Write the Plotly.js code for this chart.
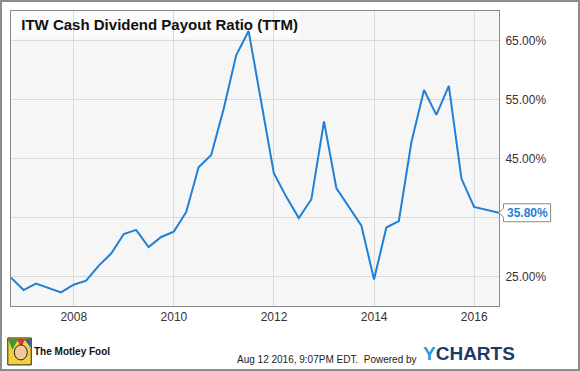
<!DOCTYPE html>
<html>
<head>
<meta charset="utf-8">
<script src="https://cdn.plot.ly/plotly-3.0.1.min.js"></script>
<style>
  html, body { margin: 0; padding: 0; background: #fff; }
  #wrap { position: relative; width: 580px; height: 371px; }
  #chart { width: 580px; height: 371px; }
  #frame { position: absolute; left: 0; top: 0; width: 580px; height: 371px; box-sizing: border-box; border: 2px solid #8c8c8c; pointer-events: none; }
</style>
</head>
<body>
<div id="wrap"><div id="chart"></div><div id="frame"></div></div>
<script>
// Quarter-end dates
const dates = [
  '2006-09-30','2006-12-31','2007-03-31','2007-06-30','2007-09-30','2007-12-31',
  '2008-03-31','2008-06-30','2008-09-30','2008-12-31','2009-03-31','2009-06-30',
  '2009-09-30','2009-12-31','2010-03-31','2010-06-30','2010-09-30','2010-12-31',
  '2011-03-31','2011-06-30','2011-09-30','2011-12-31','2012-03-31','2012-06-30',
  '2012-09-30','2012-12-31','2013-03-31','2013-06-30','2013-09-30','2013-12-31',
  '2014-03-31','2014-06-30','2014-09-30','2014-12-31','2015-03-31','2015-06-30',
  '2015-09-30','2015-12-31','2016-03-31','2016-06-30'
];
// Cash dividend payout ratio (TTM), percent
const payout = [
  24.8, 22.7, 23.8, 23.1, 22.3, 23.6,
  24.3, 26.8, 28.9, 32.2, 32.9, 30.0,
  31.7, 32.6, 35.9, 43.5, 45.6, 53.5,
  62.5, 66.6, 54.3, 42.5, 38.5, 34.9,
  38.1, 51.3, 40.0, 36.9, 33.6, 24.5,
  33.3, 34.4, 47.8, 56.6, 52.4, 57.3,
  41.6, 36.8, 36.3, 35.8
];
const xTickVals = ['2008-01-01','2010-01-01','2012-01-01','2014-01-01','2016-01-01'];
const xTickText = ['2008','2010','2012','2014','2016'];
const yTickVals = [25, 35, 45, 55, 65];
const yTickText = ['25.00%', '', '45.00%', '55.00%', '65.00%'];
const yRange = [20, 70];

const lastVal = payout[payout.length - 1];
const lastPaperY = (lastVal - yRange[0]) / (yRange[1] - yRange[0]);

// plot area in pixels: left 10.7, right 499.3, top 10.5, bottom 306
const PW = 488.6, PH = 295.5;
const px = v => (v - 10.7) / PW;
const py = v => (306 - v) / PH;

const trace = {
  x: dates, y: payout, type: 'scatter', mode: 'lines',
  line: { color: '#1f80d6', width: 2 }, hoverinfo: 'skip'
};

const boxH = 18 / PH;
const notchW = 4.5 / PW;
const boxL = 1 + notchW;
const boxR = px(551);
const notchH = 4.5 / PH;
const calloutPath =
  'M 1,' + lastPaperY +
  ' L ' + boxL + ',' + (lastPaperY + notchH) +
  ' L ' + boxL + ',' + (lastPaperY + boxH / 2) +
  ' L ' + boxR + ',' + (lastPaperY + boxH / 2) +
  ' L ' + boxR + ',' + (lastPaperY - boxH / 2) +
  ' L ' + boxL + ',' + (lastPaperY - boxH / 2) +
  ' L ' + boxL + ',' + (lastPaperY - notchH) + ' Z';

const layout = {
  width: 580, height: 371,
  margin: { l: 10.7, r: 80.7, t: 10.5, b: 65 },
  paper_bgcolor: '#ffffff',
  plot_bgcolor: '#f6f6f6',
  showlegend: false,
  font: { family: 'Liberation Sans, Arial, sans-serif', color: '#333333', size: 12 },
  title: {
    text: 'ITW Cash Dividend Payout Ratio (TTM)',
    xref: 'paper', yref: 'paper', x: px(21), xanchor: 'left', y: py(24.5), yanchor: 'middle',
    font: { family: 'Liberation Sans, Arial, sans-serif', size: 15, color: '#111111', weight: 'bold' }
  },
  xaxis: {
    type: 'date', range: [dates[0], dates[dates.length - 1]],
    tickvals: xTickVals, ticktext: xTickText,
    showgrid: true, gridcolor: '#d9d9d9', gridwidth: 1,
    showline: true, linecolor: '#8a8a8a', linewidth: 1, mirror: true,
    ticks: '', zeroline: false,
    tickfont: { size: 12, color: '#333333' }
  },
  yaxis: {
    side: 'right', range: yRange,
    tickvals: yTickVals, ticktext: yTickText,
    showgrid: true, gridcolor: '#d9d9d9', gridwidth: 1,
    showline: true, linecolor: '#8a8a8a', linewidth: 1, mirror: true,
    ticks: 'outside', ticklen: 3, tickcolor: 'rgba(0,0,0,0)', zeroline: false,
    tickfont: { size: 12, color: '#333333' }
  },
  shapes: [
    { type: 'rect', xref: 'paper', yref: 'paper', x0: 0.001, x1: px(300), y0: py(38), y1: 0.998,
      fillcolor: '#fbfbfb', line: { width: 0 }, layer: 'between' },
    { type: 'path', xref: 'paper', yref: 'paper', path: calloutPath,
      fillcolor: '#ffffff', line: { color: '#8a8a8a', width: 1 }, layer: 'above' },
    // Motley Fool jester logo (approximation)
    { type: 'rect', xref: 'paper', yref: 'paper', x0: px(7.5), x1: px(31), y0: py(365), y1: py(338),
      fillcolor: '#f4d03f', line: { color: '#222222', width: 1 } },
    { type: 'path', xref: 'paper', yref: 'paper',
      path: 'M ' + px(8) + ',' + py(339) + ' L ' + px(18) + ',' + py(339) + ' L ' + px(12) + ',' + py(350) + ' Z',
      fillcolor: '#3a9a3a', line: { width: 0 } },
    { type: 'path', xref: 'paper', yref: 'paper',
      path: 'M ' + px(16) + ',' + py(339) + ' L ' + px(25) + ',' + py(339) + ' L ' + px(21) + ',' + py(347) + ' Z',
      fillcolor: '#d93a2b', line: { width: 0 } },
    { type: 'path', xref: 'paper', yref: 'paper',
      path: 'M ' + px(24) + ',' + py(339) + ' L ' + px(30.5) + ',' + py(339) + ' L ' + px(30.5) + ',' + py(348) + ' Z',
      fillcolor: '#2f5fb0', line: { width: 0 } },
    { type: 'circle', xref: 'paper', yref: 'paper', x0: px(14), x1: px(27), y0: py(360), y1: py(345),
      fillcolor: '#f1c9a0', line: { color: '#222222', width: 1 } }
  ],
  annotations: [
    { xref: 'paper', yref: 'paper', x: (boxL + boxR) / 2, y: lastPaperY, xanchor: 'center', yanchor: 'middle',
      text: '<b>' + lastVal.toFixed(2) + '%</b>', showarrow: false,
      font: { size: 12, color: '#1f80d6', family: 'Liberation Sans, Arial, sans-serif' } },
    { xref: 'paper', yref: 'paper', x: px(32), y: py(352), xanchor: 'left', yanchor: 'middle',
      text: '<b>The Motley Fool</b>', showarrow: false,
      font: { size: 10, color: '#111111', family: 'Liberation Sans, Arial, sans-serif' } },
    { xref: 'paper', yref: 'paper', x: px(419), y: py(360), xanchor: 'right', yanchor: 'middle',
      text: 'Aug 12 2016, 9:07PM EDT.  Powered by', showarrow: false,
      font: { size: 10, color: '#222222', family: 'Liberation Sans, Arial, sans-serif' } },
    { xref: 'paper', yref: 'paper', x: px(421), y: py(354), xanchor: 'left', yanchor: 'middle',
      text: '<b><span style="color:#2a9be3">Y</span>CHARTS</b>', showarrow: false,
      font: { size: 19, color: '#1d3b66', family: 'Liberation Sans, Arial, sans-serif' } }
  ]
};

Plotly.newPlot('chart', [trace], layout, { staticPlot: true, displayModeBar: false });
</script>
</body>
</html>
